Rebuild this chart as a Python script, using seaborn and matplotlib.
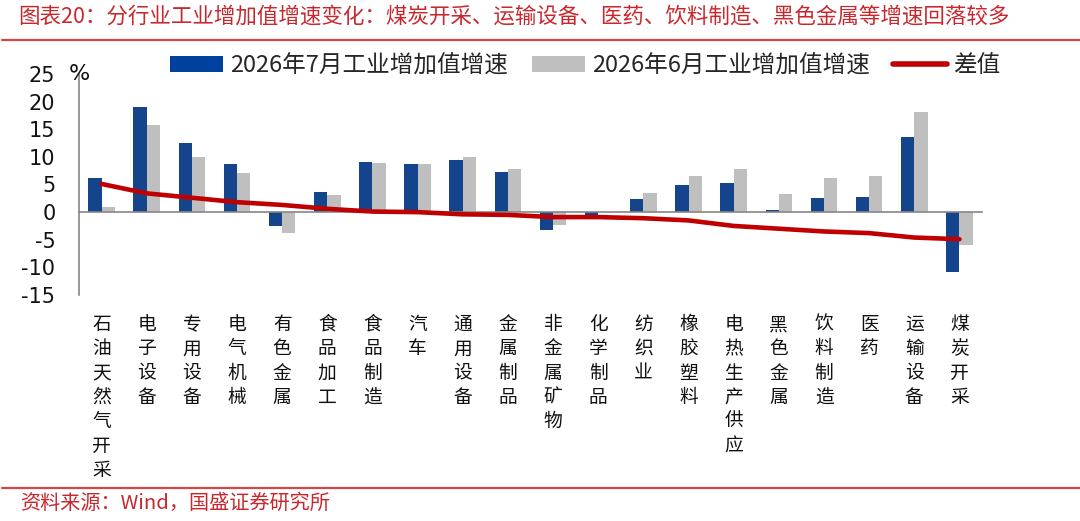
import numpy as np
import pandas as pd
import matplotlib
matplotlib.use("Agg")
import matplotlib.pyplot as plt
import matplotlib.transforms as mtransforms
from matplotlib.patches import Patch
from matplotlib.lines import Line2D
import seaborn as sns

# ---------------- data ----------------
categories = ['石油天然气开采', '电子设备', '专用设备', '电气机械', '有色金属', '食品加工',
              '食品制造', '汽车', '通用设备', '金属制品', '非金属矿物', '化学制品',
              '纺织业', '橡胶塑料', '电热生产供应', '黑色金属', '饮料制造', '医药',
              '运输设备', '煤炭开采']
jul_growth = [6.1, 19.1, 12.6, 8.8, -2.5, 3.7, 9.0, 8.7, 9.5, 7.3, -3.3, -0.8,
              2.3, 5.0, 5.3, 0.3, 2.6, 2.8, 13.6, -10.8]
jun_growth = [1.0, 15.7, 10.0, 7.0, -3.8, 3.1, 8.9, 8.7, 9.9, 7.8, -2.4, 0.1,
              3.4, 6.5, 7.8, 3.3, 6.1, 6.6, 18.2, -5.9]
series_names = ['2026年7月工业增加值增速', '2026年6月工业增加值增速', '差值']
y_ticks = [-15, -10, -5, 0, 5, 10, 15, 20, 25]
title_text = '图表20：分行业工业增加值增速变化：煤炭开采、运输设备、医药、饮料制造、黑色金属等增速回落较多'
source_text = '资料来源：Wind，国盛证券研究所'

diff = [a - b for a, b in zip(jul_growth, jun_growth)]

# ---------------- style ----------------
sns.set_style('white')
plt.rcParams['font.family'] = ['Noto Sans CJK SC', 'DejaVu Sans']

BLUE = '#00409F'
GRAY = '#BFBFBF'
RED = '#C00000'
TITLE_RED = '#C8282D'
AX_GRAY = '#868686'

W, H = 1080, 521
fig = plt.figure(figsize=(W / 100, H / 100), dpi=100)
ax = fig.add_axes([79 / W, 1 - 295 / H, (982 - 79) / W, (295 - 74) / H])

df = pd.DataFrame({
    'cat': categories * 2,
    'series': [series_names[0]] * len(categories) + [series_names[1]] * len(categories),
    'value': jul_growth + jun_growth,
})
sns.barplot(data=df, x='cat', y='value', hue='series', order=categories,
            hue_order=series_names[:2], palette=[BLUE, GRAY], width=0.59,
            gap=0, linewidth=0, ax=ax, errorbar=None, legend=False)

sns.lineplot(x=np.arange(len(categories)), y=diff, ax=ax, color=RED, lw=3.3,
             solid_capstyle='round', solid_joinstyle='round', zorder=5,
             legend=False)
if ax.get_legend() is not None:
    ax.get_legend().remove()

ax.set_xlim(-0.5, len(categories) - 0.5)
ax.set_ylim(-15, 25)
ax.set_xlabel('')
ax.set_ylabel('')

# axes / spines
for s in ['top', 'right']:
    ax.spines[s].set_visible(False)
ax.spines['bottom'].set_position(('data', 0))
ax.spines['bottom'].set_color(AX_GRAY)
ax.spines['left'].set_color(AX_GRAY)
ax.spines['bottom'].set_linewidth(1.2)
ax.spines['left'].set_linewidth(1.2)
ax.spines['bottom'].set_zorder(4)

ax.set_xticks(np.arange(0.5, len(categories), 1))
ax.set_xticklabels([])
ax.tick_params(axis='x', direction='in', length=7, width=1.2, color=AX_GRAY)
ax.set_yticks(y_ticks)
ax.set_yticklabels([str(t) for t in y_ticks], fontsize=15, family='DejaVu Sans')
ax.tick_params(axis='y', direction='in', length=7, width=1.2, color=AX_GRAY, pad=17,
               labelcolor='#111111')

ax.text(-0.5, 25, '%', ha='center', va='center', fontsize=16, family='DejaVu Sans',
        color='#111111')

# vertical category labels (one char per line)
blend = mtransforms.blended_transform_factory(ax.transData, fig.transFigure)
for i, name in enumerate(categories):
    for j, ch in enumerate(name):
        ax.text(i, (H - (324.5 + j * 24.3)) / H, ch, transform=blend,
                ha='center', va='center', fontsize=13.5, color='#111111',
                clip_on=False)

# legend
handles = [Patch(facecolor=BLUE, edgecolor='none'),
           Patch(facecolor=GRAY, edgecolor='none'),
           Line2D([0], [0], color=RED, lw=4, solid_capstyle='round')]
fig.legend(handles, series_names, loc='center left',
           bbox_to_anchor=(170 / W, 1 - 66 / H), ncol=3, frameon=False,
           fontsize=17, handlelength=2.25, handleheight=0.65, handletextpad=0.3,
           columnspacing=1.0, borderpad=0, borderaxespad=0)

# title, source and red rules
fig.text(18 / W, 1 - 17 / H, title_text, ha='left', va='center', fontsize=15.5,
         color=TITLE_RED)
fig.add_artist(Line2D([0.002, 1.0], [1 - 40 / H] * 2, transform=fig.transFigure,
                      color='#D04848', lw=1.6))
fig.add_artist(Line2D([0.002, 1.0], [1 - 488 / H] * 2, transform=fig.transFigure,
                      color='#D04848', lw=1.6))
fig.text(20 / W, 1 - 503 / H, source_text, ha='left', va='center', fontsize=14.5,
         color=TITLE_RED)

fig.savefig('out.png', dpi=100)
